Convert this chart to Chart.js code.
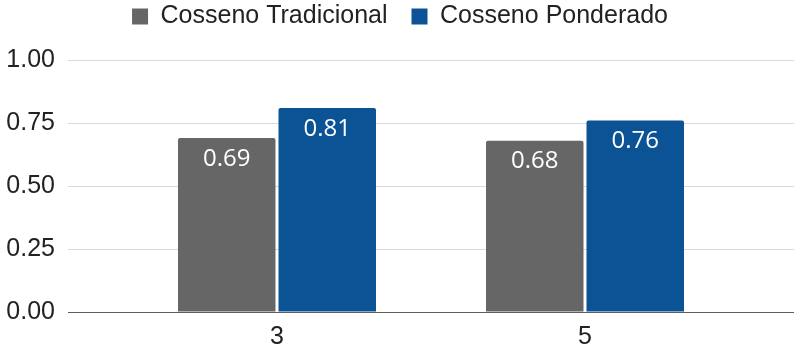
<!DOCTYPE html>
<html>
<head>
<meta charset="utf-8">
<script src="https://cdn.jsdelivr.net/npm/chart.js@4"></script>
<style>
  html, body { margin: 0; padding: 0; background: #ffffff; }
  #wrap { width: 800px; height: 351px; }
</style>
</head>
<body>
<div id="wrap"><canvas id="c" width="800" height="351"></canvas></div>
<script>
const categories = ['3', '5'];
const seriesNames = ['Cosseno Tradicional', 'Cosseno Ponderado'];
const tradicional = [0.69, 0.68];
const ponderado = [0.81, 0.76];
const yTicks = [0, 0.25, 0.5, 0.75, 1];

const colors = ['#666666', '#0b5394'];

const toPoints = (vals) => categories.map((c, i) => ({ x: Number(c), y: vals[i] }));

const valueLabels = {
  id: 'valueLabels',
  beforeLayout(chart) {
    const lg = chart.legend;
    if (lg && !lg._patched) {
      const orig = lg.fit;
      lg.fit = function () { orig.call(this); this.height = 80; };
      lg._patched = true;
    }
  },
  afterDatasetsDraw(chart) {
    const ctx = chart.ctx;
    ctx.save();
    ctx.fillStyle = '#ffffff';
    ctx.font = '24px "Open Sans", "Noto Sans", sans-serif';
    ctx.textAlign = 'center';
    ctx.textBaseline = 'middle';
    chart.data.datasets.forEach((ds, di) => {
      const meta = chart.getDatasetMeta(di);
      meta.data.forEach((el, i) => {
        ctx.fillText(ds.data[i].y.toFixed(2), el.x, el.y + 21);
      });
    });
    ctx.restore();
  }
};

const axisFont = { family: '"Liberation Sans", Arial, sans-serif', size: 25 };

new Chart(document.getElementById('c'), {
  type: 'bar',
  data: {
    datasets: [
      { label: seriesNames[0], data: toPoints(tradicional), backgroundColor: colors[0], borderRadius: 2, categoryPercentage: 0.6526, barPercentage: 0.97 },
      { label: seriesNames[1], data: toPoints(ponderado), backgroundColor: colors[1], borderRadius: 2, categoryPercentage: 0.6526, barPercentage: 0.97 }
    ]
  },
  options: {
    responsive: false,
    animation: false,
    devicePixelRatio: 1,
    layout: { padding: { top: -20, left: 6, right: 6, bottom: 2 } },
    plugins: {
      legend: {
        position: 'top',
        align: 'center',
        labels: {
          boxWidth: 16,
          boxHeight: 16,
          padding: 24,
          color: '#222222',
          font: axisFont
        }
      },
      tooltip: { enabled: false }
    },
    scales: {
      x: {
        type: 'linear',
        offset: false,
        min: 1.643,
        max: 6.357,
        afterBuildTicks(scale) {
          scale.ticks = categories.map(c => ({ value: Number(c) }));
        },
        afterFit(scale) { scale.height = 37; },
        ticks: {
          autoSkip: false,
          maxRotation: 0,
          padding: 10,
          color: '#222222',
          font: axisFont,
          callback: (v, i) => categories[i]
        },
        grid: { display: false, drawTicks: false },
        border: { display: false }
      },
      y: {
        min: 0,
        max: 1,
        afterBuildTicks(scale) {
          scale.ticks = yTicks.map(v => ({ value: v }));
        },
        afterFit(scale) { scale.width = 62; },
        ticks: {
          padding: 13,
          color: '#222222',
          font: axisFont,
          callback: (v) => Number(v).toFixed(2)
        },
        grid: {
          drawTicks: false,
          color: (ctx) => (ctx.tick && ctx.tick.value === 0) ? '#5f5f5f' : '#d9d9d9',
          lineWidth: 1
        },
        border: { display: false }
      }
    }
  },
  plugins: [valueLabels]
});
</script>
</body>
</html>
